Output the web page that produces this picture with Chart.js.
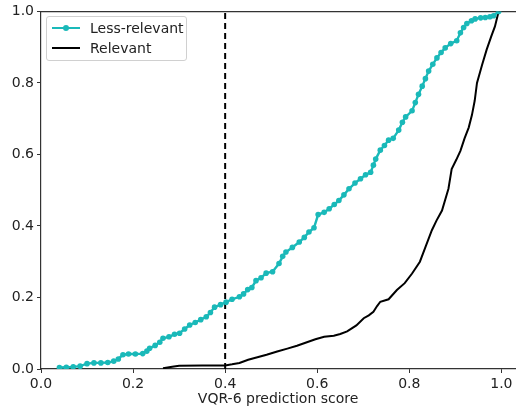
<!DOCTYPE html>
<html>
<head>
<meta charset="utf-8">
<script src="https://cdn.jsdelivr.net/npm/chart.js@4.4.1/dist/chart.umd.min.js"></script>
<style>
  html, body { margin: 0; padding: 0; background: #fff; }
  #wrap { position: relative; width: 518px; height: 412px; }
  #legend {
    position: absolute; left: 46px; top: 16px; width: 139px; height: 43px;
    border: 1px solid #d0d0d0; border-radius: 3px; background: rgba(255,255,255,.9);
    font-family: "DejaVu Sans", sans-serif; font-size: 14px; color: #222;
  }
  .row { position: absolute; left: 5px; height: 18px; line-height: 18px; white-space: nowrap; }
  .swatch { position: absolute; left: 0; top: 8px; width: 28px; height: 2px; }
  .dot { position: absolute; left: 11px; top: -2px; width: 6px; height: 6px; border-radius: 50%; }
  .lbl { position: absolute; left: 38px; top: 0; }
</style>
</head>
<body>
<div id="wrap">
  <canvas id="c" width="518" height="412"></canvas>
  <div id="legend">
    <div class="row" style="top:2px"><div class="swatch" style="background:#1ab9b9"><div class="dot" style="background:#1ab9b9"></div></div><span class="lbl">Less-relevant</span></div>
    <div class="row" style="top:22px"><div class="swatch" style="background:#000"></div><span class="lbl">Relevant</span></div>
  </div>
</div>
<script>
/* cumulative share vs. prediction score */

const lessX = [0.04, 0.055, 0.07, 0.085, 0.10, 0.115, 0.13, 0.145, 0.158, 0.168, 0.178, 0.19, 0.205, 0.221, 0.23,
  0.236, 0.248, 0.258, 0.265, 0.278, 0.29, 0.301, 0.312, 0.323, 0.335, 0.347, 0.359, 0.368, 0.377, 0.39,
  0.402, 0.415, 0.431, 0.44, 0.449, 0.458, 0.467, 0.478, 0.489, 0.503, 0.517, 0.525, 0.532, 0.546, 0.561,
  0.572, 0.582, 0.593, 0.602, 0.615, 0.626, 0.637, 0.647, 0.658, 0.669, 0.682, 0.694, 0.705, 0.716, 0.722,
  0.727, 0.737, 0.746, 0.755, 0.765, 0.777, 0.785, 0.792, 0.806, 0.813, 0.82, 0.828, 0.835, 0.842, 0.851,
  0.86, 0.869, 0.878, 0.89, 0.903, 0.911, 0.918, 0.925, 0.935, 0.943, 0.955, 0.965, 0.975, 0.983, 0.994];
const lessY = [0.004, 0.005, 0.006, 0.008, 0.015, 0.017, 0.017, 0.018, 0.022, 0.028, 0.04, 0.042, 0.042, 0.043, 0.05,
  0.058, 0.066, 0.075, 0.086, 0.09, 0.097, 0.10, 0.112, 0.123, 0.13, 0.138, 0.146, 0.158, 0.173, 0.18,
  0.187, 0.195, 0.202, 0.21, 0.222, 0.228, 0.247, 0.255, 0.268, 0.272, 0.295, 0.315, 0.327, 0.34, 0.355,
  0.368, 0.383, 0.395, 0.432, 0.438, 0.448, 0.46, 0.471, 0.487, 0.504, 0.52, 0.532, 0.543, 0.55, 0.57,
  0.587, 0.612, 0.625, 0.64, 0.645, 0.668, 0.69, 0.705, 0.722, 0.745, 0.768, 0.791, 0.812, 0.833, 0.852,
  0.87, 0.885, 0.898, 0.91, 0.918, 0.94, 0.955, 0.966, 0.974, 0.979, 0.982, 0.983, 0.985, 0.988, 1.0];

const relX = [0.265, 0.285, 0.30, 0.35, 0.40, 0.415, 0.431, 0.45, 0.47, 0.49, 0.513, 0.535, 0.556, 0.576, 0.596,
  0.615, 0.636, 0.65, 0.665, 0.685, 0.701, 0.712, 0.722, 0.73, 0.737, 0.755, 0.773, 0.79, 0.806, 0.823,
  0.835, 0.849, 0.859, 0.871, 0.885, 0.892, 0.902, 0.911, 0.92, 0.929, 0.936, 0.942, 0.947, 0.958, 0.968,
  0.978, 0.986, 0.994];
const relY = [0.002, 0.006, 0.009, 0.01, 0.01, 0.013, 0.017, 0.026, 0.033, 0.04, 0.049, 0.057, 0.065, 0.074, 0.083,
  0.09, 0.093, 0.098, 0.105, 0.122, 0.142, 0.15, 0.16, 0.176, 0.188, 0.195, 0.221, 0.24, 0.267, 0.3,
  0.341, 0.388, 0.415, 0.443, 0.504, 0.559, 0.585, 0.61, 0.645, 0.675, 0.71, 0.75, 0.8, 0.85, 0.893,
  0.93, 0.958, 1.0];

const threshold = 0.4;
const xTicks = [0.0, 0.2, 0.4, 0.6, 0.8, 1.0];
const yTicks = [0.0, 0.2, 0.4, 0.6, 0.8, 1.0];

const CYAN = '#1ab9b9';
const AXIS = '#333';
const pts = (xs, ys) => xs.map((x, i) => ({ x, y: ys[i] }));

Chart.defaults.font.family = '"DejaVu Sans", sans-serif';
Chart.defaults.font.size = 14;
Chart.defaults.color = '#222';

new Chart(document.getElementById('c').getContext('2d'), {
  type: 'line',
  data: {
    datasets: [
      { label: 'Less-relevant', data: pts(lessX, lessY), borderColor: CYAN, backgroundColor: CYAN,
        borderWidth: 2.4, pointRadius: 2.8, pointBorderWidth: 0, pointHoverRadius: 0, tension: 0 },
      { label: 'Relevant', data: pts(relX, relY), borderColor: '#000', borderWidth: 2,
        pointRadius: 0, tension: 0 },
      { label: 'threshold', data: [{ x: threshold, y: 0 }, { x: threshold, y: 1 }], borderColor: '#000',
        borderWidth: 2, borderDash: [6, 4], pointRadius: 0 },
    ],
  },
  options: {
    responsive: false,
    animation: false,
    parsing: false,
    layout: { padding: { right: 1 } },
    plugins: { legend: { display: false }, tooltip: { enabled: false } },
    scales: {
      x: {
        type: 'linear', min: 0, max: 1.03,
        afterFit: s => { s.height = 43; },
        afterBuildTicks: s => { s.ticks = xTicks.map(v => ({ value: v })); },
        ticks: { callback: v => v.toFixed(1), maxRotation: 0, padding: 3 },
        grid: { drawOnChartArea: false, tickLength: 4, color: AXIS },
        border: { color: AXIS, width: 1.2 },
        title: { display: true, text: 'VQR-6 prediction score', padding: { top: 0 } },
      },
      xTop: {
        type: 'linear', position: 'top', min: 0, max: 1.03,
        afterFit: s => { s.height = 10; },
        ticks: { display: false },
        grid: { display: false },
        border: { color: AXIS, width: 1.2 },
      },
      y: {
        min: 0, max: 1,
        afterFit: s => { s.width = 41; },
        afterBuildTicks: s => { s.ticks = yTicks.map(v => ({ value: v })); },
        ticks: { callback: v => v.toFixed(1), padding: 3 },
        grid: { drawOnChartArea: false, tickLength: 4, color: AXIS },
        border: { color: AXIS, width: 1.2 },
      },
    },
  },
});
</script>
</body>
</html>
